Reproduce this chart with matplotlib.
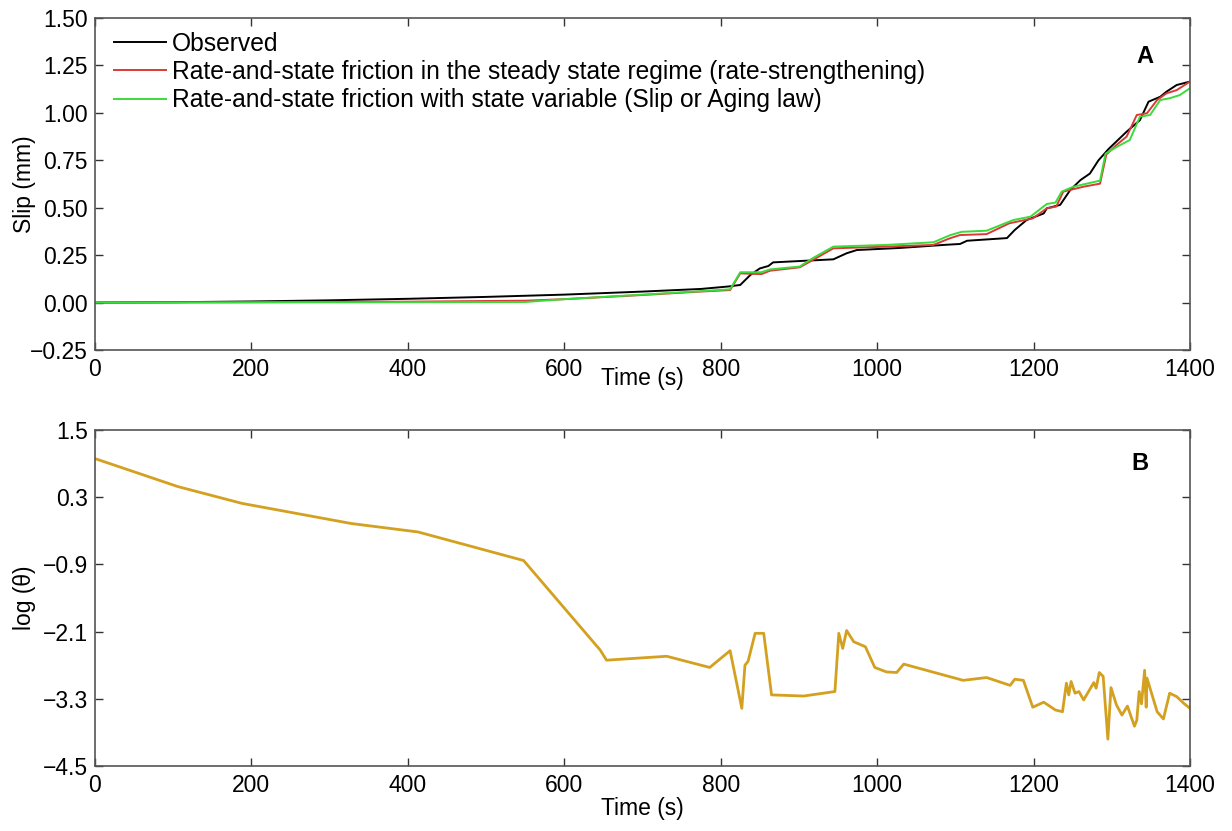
import matplotlib
matplotlib.use("Agg")
import matplotlib.pyplot as plt
import numpy as np

matplotlib.rcParams.update({
    "font.family": ["Liberation Sans", "DejaVu Sans"],
    "font.size": 16,
    "xtick.direction": "in", "ytick.direction": "in",
    "xtick.top": True, "ytick.right": True,
    "axes.unicode_minus": True,
})

# ── Panel A: slip ─────────────────────────────────────────────────────────────
t_obs = [0, 100, 200, 300, 400, 500, 600, 700, 775, 810, 825, 838, 850, 861, 867,
         944, 961, 974, 1029, 1089, 1106, 1115, 1166, 1176, 1191, 1213, 1217, 1234,
         1247, 1260, 1272, 1283, 1296, 1319, 1336, 1347, 1362, 1370, 1383, 1400]
slip_obs = [0, 0.002, 0.006, 0.012, 0.02, 0.03, 0.042, 0.058, 0.072, 0.085, 0.093,
            0.146, 0.18, 0.193, 0.212, 0.228, 0.26, 0.277, 0.288, 0.305, 0.309, 0.326,
            0.34, 0.383, 0.435, 0.47, 0.497, 0.515, 0.594, 0.646, 0.68, 0.75, 0.81,
            0.901, 0.962, 1.059, 1.085, 1.112, 1.147, 1.165]

t_ss = [0, 200, 400, 550, 600, 700, 774, 812, 825, 852, 863, 901, 918, 944, 1012,
        1072, 1093, 1106, 1140, 1169, 1199, 1217, 1229, 1238, 1264, 1285, 1293, 1306,
        1319, 1332, 1345, 1358, 1370, 1383, 1400]
slip_ss = [0, 0.002, 0.005, 0.01, 0.018, 0.04, 0.058, 0.066, 0.154, 0.15, 0.168,
           0.186, 0.225, 0.286, 0.295, 0.304, 0.339, 0.356, 0.361, 0.418, 0.444,
           0.497, 0.506, 0.585, 0.611, 0.627, 0.78, 0.831, 0.875, 0.989, 0.998,
           1.068, 1.103, 1.12, 1.165]

t_sv = [0, 200, 400, 550, 600, 700, 774, 812, 825, 852, 863, 901, 918, 944, 1012,
        1072, 1093, 1108, 1140, 1174, 1196, 1217, 1228, 1236, 1251, 1285, 1292, 1306,
        1323, 1336, 1349, 1362, 1374, 1387, 1400]
slip_sv = [0, 0.001, 0.002, 0.003, 0.018, 0.042, 0.06, 0.07, 0.16, 0.16, 0.175,
           0.19, 0.235, 0.295, 0.304, 0.318, 0.355, 0.373, 0.379, 0.435, 0.453,
           0.52, 0.527, 0.585, 0.611, 0.643, 0.785, 0.82, 0.857, 0.98, 0.989,
           1.068, 1.077, 1.094, 1.13]

# ── Panel B: log(theta) ───────────────────────────────────────────────────────
t_th = [0, 106, 188, 328, 413, 548, 646, 654, 731, 786, 812, 827, 831, 835, 844,
        855, 865, 906, 946, 951, 956, 961, 970, 985, 997, 1012, 1025, 1034, 1110,
        1140, 1170, 1176, 1187, 1199, 1213, 1228, 1237, 1242, 1245, 1248, 1253,
        1258, 1264, 1277, 1280, 1284, 1289, 1295, 1299, 1306, 1313, 1320, 1329,
        1332, 1335, 1338, 1342, 1344, 1345, 1358, 1366, 1374, 1383, 1392, 1400]
log_th = [0.99, 0.49, 0.19, -0.17, -0.32, -0.83, -2.43, -2.61, -2.54, -2.74, -2.44,
          -3.47, -2.7, -2.63, -2.13, -2.13, -3.23, -3.25, -3.17, -2.13, -2.4, -2.08,
          -2.28, -2.37, -2.74, -2.82, -2.83, -2.68, -2.97, -2.92, -3.06, -2.95,
          -2.97, -3.45, -3.36, -3.5, -3.53, -3.02, -3.23, -2.99, -3.2, -3.17, -3.32,
          -3.01, -3.11, -2.83, -2.9, -4.02, -3.1, -3.41, -3.59, -3.43, -3.79, -3.68,
          -3.17, -3.39, -2.79, -3.45, -2.93, -3.53, -3.66, -3.2, -3.26, -3.38, -3.47]

def fmt(v, nd):
    return f"{v:.{nd}f}".replace("-", "\u2212")

fig = plt.figure(figsize=(12.32, 8.31), dpi=100)
ax1 = fig.add_axes([0.0771, 0.5788, 0.8888, 0.3995])
ax2 = fig.add_axes([0.0771, 0.0782, 0.8888, 0.4043])

ax1.plot(t_obs, slip_obs, color="black", lw=1.4, label="Observed")
ax1.plot(t_ss, slip_ss, color="#D93A36", lw=1.4,
         label="Rate-and-state friction in the steady state regime (rate-strengthening)")
ax1.plot(t_sv, slip_sv, color="#3ADB3A", lw=1.4,
         label="Rate-and-state friction with state variable (Slip or Aging law)")

ax1.set_xlim(0, 1400)
ax1.set_ylim(-0.25, 1.5)
ax1.set_xticks(np.arange(0, 1401, 200))
yt1 = np.arange(-0.25, 1.51, 0.25)
ax1.set_yticks(yt1)
ax1.set_yticklabels([fmt(v, 2) for v in yt1])
ax1.set_xlabel("Time (s)", fontsize=16.5, labelpad=-10)
ax1.set_ylabel("Slip (mm)", fontsize=16.5)
ax1.text(0.959, 0.883, "A", transform=ax1.transAxes, fontsize=17,
         fontweight="bold", ha="center", va="center")
ax1.legend(loc="upper left", frameon=False, fontsize=17.7, handlelength=2.1,
           handletextpad=0.25, labelspacing=0.18, borderaxespad=0.3,
           borderpad=0.25, bbox_to_anchor=(0.005, 1.0))

ax2.plot(t_th, log_th, color="#D4A020", lw=2)
ax2.set_xlim(0, 1400)
ax2.set_ylim(-4.5, 1.5)
ax2.set_xticks(np.arange(0, 1401, 200))
yt2 = np.arange(-4.5, 1.51, 1.2)
ax2.set_yticks(yt2)
ax2.set_yticklabels([fmt(v, 1) for v in yt2])
ax2.set_xlabel("Time (s)", fontsize=16.5, labelpad=0)
ax2.set_ylabel("log (θ)", fontsize=16.5)
ax2.text(0.954, 0.899, "B", transform=ax2.transAxes, fontsize=17,
         fontweight="bold", ha="center", va="center")

for ax in (ax1, ax2):
    for s in ax.spines.values():
        s.set_color("#555555")
        s.set_linewidth(1.2)
    ax.tick_params(labelsize=16.5, length=6, width=1, color="#333333")
    ax.tick_params(axis="x", pad=6)
    ax.tick_params(axis="y", pad=5)
    ax.yaxis.set_label_coords(-0.0535, 0.5)

plt.savefig("out.png", dpi=100)
plt.close()
